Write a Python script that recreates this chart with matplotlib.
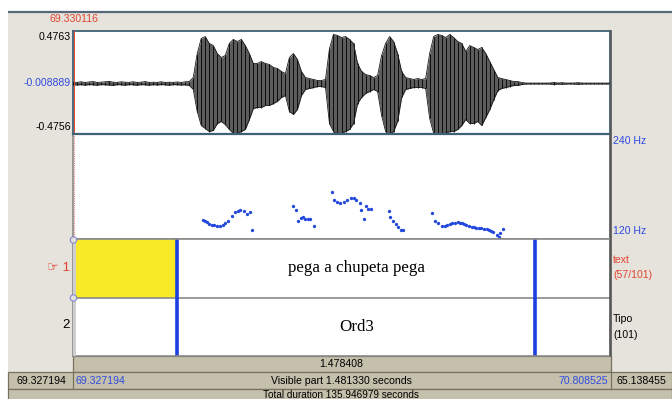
import numpy as np
import matplotlib
matplotlib.use("Agg")
import matplotlib.pyplot as plt
from matplotlib.patches import Rectangle, Circle

# ---------------- data ----------------
view_start = 69.327194
view_end = 70.808525
cursor_time = 69.330116
wave_dc = -0.008889
wave_top = 0.4763
wave_bottom = -0.4756
pitch_floor = 120
pitch_ceiling = 240

# waveform envelope, sampled every 0.011055 s from view_start
wave_step = 0.011055
wave_pos = [0.012, 0.010, 0.016, 0.010, 0.014, 0.018, 0.010, 0.012, 0.016, 0.020,
            0.012, 0.010, 0.016, 0.012, 0.010, 0.016, 0.010, 0.012, 0.018, 0.010,
            0.012, 0.010, 0.016, 0.010, 0.012, 0.010, 0.014, 0.010, 0.016,
            0.018, 0.055, 0.277, 0.416, 0.434, 0.370, 0.351, 0.277, 0.240, 0.259,
            0.370, 0.407, 0.388, 0.407, 0.351, 0.277, 0.185, 0.185, 0.203, 0.185,
            0.176, 0.148, 0.139, 0.111, 0.092, 0.240, 0.277, 0.222, 0.111, 0.055,
            0.046, 0.037, 0.028, 0.028, 0.037, 0.323, 0.453, 0.444, 0.425, 0.434,
            0.407, 0.370, 0.185, 0.111, 0.083, 0.074, 0.055, 0.074, 0.259, 0.370,
            0.434, 0.388, 0.277, 0.111, 0.055, 0.046, 0.037, 0.046, 0.037, 0.046,
            0.277, 0.434, 0.453, 0.444, 0.425, 0.453, 0.425, 0.388, 0.370, 0.296,
            0.351, 0.333, 0.314, 0.333, 0.277, 0.203, 0.129, 0.055, 0.046, 0.037,
            0.028, 0.018, 0.018, 0.009,
            0.004, 0.004, 0.004, 0.004, 0.004, 0.004, 0.004, 0.010, 0.004, 0.008,
            0.004, 0.004, 0.004, 0.008, 0.004, 0.004, 0.004, 0.004, 0.004, 0.004,
            0.004, 0.004]
wave_neg = [0.010, 0.014, 0.010, 0.016, 0.010, 0.012, 0.016, 0.010, 0.012, 0.014,
            0.018, 0.010, 0.012, 0.016, 0.010, 0.012, 0.016, 0.010, 0.012, 0.016,
            0.010, 0.014, 0.010, 0.012, 0.016, 0.010, 0.012, 0.014, 0.012,
            0.018, 0.055, 0.259, 0.388, 0.416, 0.444, 0.434, 0.370, 0.351, 0.379,
            0.425, 0.462, 0.462, 0.444, 0.425, 0.333, 0.231, 0.222, 0.222, 0.203,
            0.203, 0.185, 0.166, 0.129, 0.111, 0.259, 0.286, 0.240, 0.111, 0.055,
            0.046, 0.037, 0.028, 0.028, 0.037, 0.370, 0.444, 0.471, 0.462, 0.444,
            0.425, 0.370, 0.185, 0.129, 0.092, 0.074, 0.055, 0.074, 0.296, 0.444,
            0.471, 0.444, 0.351, 0.129, 0.055, 0.046, 0.037, 0.037, 0.037, 0.046,
            0.323, 0.462, 0.471, 0.462, 0.462, 0.444, 0.444, 0.425, 0.388, 0.333,
            0.370, 0.370, 0.351, 0.388, 0.314, 0.240, 0.148, 0.065, 0.046, 0.037,
            0.028, 0.018, 0.018, 0.009,
            0.004, 0.004, 0.004, 0.004, 0.004, 0.004, 0.004, 0.010, 0.004, 0.008,
            0.004, 0.004, 0.004, 0.008, 0.004, 0.004, 0.004, 0.004, 0.004, 0.004,
            0.004, 0.004]

# pitch track (s, Hz)
pitch_t = [69.685, 69.691, 69.697, 69.703, 69.710, 69.717, 69.724, 69.733, 69.740,
           69.747, 69.756, 69.766, 69.775, 69.782, 69.789, 69.798, 69.807, 69.816,
           69.822,
           69.934, 69.941, 69.948, 69.955, 69.961, 69.968, 69.976, 69.982, 69.991,
           70.042, 70.047, 70.056, 70.065, 70.074, 70.084, 70.093, 70.102, 70.109,
           70.118, 70.123, 70.130, 70.136, 70.142, 70.148,
           70.199, 70.203, 70.211, 70.217, 70.224, 70.231, 70.237,
           70.318, 70.325, 70.334, 70.346, 70.353, 70.360, 70.366, 70.374, 70.380,
           70.388, 70.394, 70.401, 70.406, 70.411, 70.420, 70.427, 70.434, 70.440,
           70.447, 70.454, 70.461, 70.468, 70.475, 70.481, 70.487, 70.496, 70.501,
           70.505, 70.512]
pitch_hz = [141.8, 140.4, 139.0, 137.5, 136.3, 135.6, 135.1, 135.1, 136.3,
            137.8, 141.0, 146.8, 150.6, 152.3, 153.4, 151.8, 148.8, 150.3,
            130.5,
            157.3, 152.6, 141.0, 144.1, 145.6, 143.3, 142.5, 142.7, 135.1,
            173.9, 165.1, 162.3, 161.1, 162.3, 165.1, 166.6, 166.6, 165.1,
            161.1, 152.6, 143.0, 158.1, 154.6, 154.1,
            152.3, 144.8, 141.0, 137.1, 133.2, 130.5, 130.5,
            149.9, 141.0, 137.8, 134.8, 135.1, 136.0, 136.9, 137.8, 138.4,
            139.0, 138.8, 138.3, 137.2, 136.3, 134.3, 133.8, 133.2, 132.8,
            132.5, 132.1, 131.7, 130.9, 130.1, 129.3, 128.2, 124.7, 122.3,
            127.3, 131.3]

# interval tiers
tier_names = ["text", "Tipo"]
tier_counts = ["(57/101)", "(101)"]
boundaries = [69.6146, 70.6021]
tier1_label = "pega a chupeta pega"
tier2_label = "Ord3"

# status texts
selection_text = "1.478408"
visible_text = "Visible part 1.481330 seconds"
total_text = "Total duration 135.946979 seconds"
window_left_text = "69.327194"
window_right_text = "70.808525"
before_text = "69.327194"
after_text = "65.138455"

# ---------------- figure ----------------
W, H = 672, 399
fig = plt.figure(figsize=(W / 100, H / 100), dpi=100)
fig.patch.set_facecolor("white")

SANS = ["Liberation Sans", "DejaVu Sans"]
SERIF = ["Liberation Serif", "DejaVu Serif"]
RED = "#e2452f"
BLUE = "#2f4be0"
BG = "#e6e2dc"
BAR = "#c5c0ab"
BAR_EDGE = "#77725f"


def px_box(x0, y0, x1, y1):
    return [x0 / W, 1 - y1 / H, (x1 - x0) / W, (y1 - y0) / H]


# window background in pixel coordinates
bg = fig.add_axes([0, 0, 1, 1])
bg.set_xlim(0, W)
bg.set_ylim(H, 0)
bg.axis("off")
bg.add_patch(Rectangle((8, 12), W - 8, H - 12, color=BG, lw=0))
bg.plot([8, W], [12, 12], color="#56697a", lw=1.6, solid_capstyle="butt")

# status bars
bg.add_patch(Rectangle((73, 356), 538, 16, facecolor=BAR, edgecolor=BAR_EDGE, lw=0.9))
bg.add_patch(Rectangle((8, 372), W - 8, 17, facecolor=BAR, edgecolor=BAR_EDGE, lw=0.9))
bg.add_patch(Rectangle((8, 389), W - 8, 12, facecolor=BAR, edgecolor=BAR_EDGE, lw=0.9))
bg.plot([73, 73], [372, 389], color=BAR_EDGE, lw=0.9)
bg.plot([611, 611], [372, 389], color=BAR_EDGE, lw=0.9)

fs = 7.6
bg.text(341, 364, selection_text, ha="center", va="center", fontsize=fs, family=SANS)
bg.text(341, 380.5, visible_text, ha="center", va="center", fontsize=fs, family=SANS)
bg.text(341, 389.6, total_text, ha="center", va="top", fontsize=7.2, family=SANS)
bg.text(41, 380.5, before_text, ha="center", va="center", fontsize=fs, family=SANS)
bg.text(641, 380.5, after_text, ha="center", va="center", fontsize=fs, family=SANS)
bg.text(75, 380.5, window_left_text, ha="left", va="center", fontsize=fs,
        family=SANS, color=BLUE)
bg.text(608, 380.5, window_right_text, ha="right", va="center", fontsize=fs,
        family=SANS, color=BLUE)

# left-hand labels
bg.text(74, 19.5, f"{cursor_time:.6f}", ha="center", va="center", fontsize=fs,
        family=SANS, color=RED)
bg.text(71, 36.5, f"{wave_top:.4f}", ha="right", va="center", fontsize=fs, family=SANS)
bg.text(71, 83, f"{wave_dc:.6f}", ha="right", va="center", fontsize=fs,
        family=SANS, color=BLUE)
bg.text(71, 126.5, f"{wave_bottom:.4f}", ha="right", va="center", fontsize=fs,
        family=SANS)
bg.text(70, 268, "\u261e 1", ha="right", va="center", fontsize=9.5, family=SANS,
        color=RED)
bg.text(70, 325.5, "2", ha="right", va="center", fontsize=9.5, family=SANS)

# right-hand labels
bg.text(613, 141.5, f"{pitch_ceiling} Hz", ha="left", va="center", fontsize=fs,
        family=SANS, color=BLUE)
bg.text(613, 231.5, f"{pitch_floor} Hz", ha="left", va="center", fontsize=fs,
        family=SANS, color=BLUE)
bg.text(613, 260, tier_names[0], ha="left", va="center", fontsize=fs,
        family=SANS, color=RED)
bg.text(613, 275.5, tier_counts[0], ha="left", va="center", fontsize=fs,
        family=SANS, color=RED)
bg.text(613, 318.5, tier_names[1], ha="left", va="center", fontsize=fs, family=SANS)
bg.text(613, 335, tier_counts[1], ha="left", va="center", fontsize=fs, family=SANS)

# ---------------- waveform ----------------
wav = fig.add_axes(px_box(73, 31, 610, 134))
wav.set_xlim(view_start, view_end)
wav.set_ylim(wave_bottom, wave_top)
wav.set_xticks([])
wav.set_yticks([])
for s in wav.spines.values():
    s.set_color("#3f6174")
    s.set_linewidth(1.3)

wt = view_start + wave_step * np.arange(len(wave_pos))
upper = wave_dc + np.array(wave_pos)
lower = wave_dc - np.array(wave_neg)
wav.axhline(wave_dc, color="#2d4760", lw=0.6, ls=(0, (1.5, 1.5)), zorder=1)
wav.fill_between(wt, lower, upper, color="#5c5c5c", lw=0, zorder=2)
wav.vlines(wt, lower, upper, color="black", lw=0.6, zorder=3)
wav.plot(wt, upper, color="#1a1a1a", lw=0.6, zorder=3)
wav.plot(wt, lower, color="#1a1a1a", lw=0.6, zorder=3)
wav.axvline(cursor_time, color=RED, lw=0.7, zorder=4)

# ---------------- pitch ----------------
pit = fig.add_axes(px_box(73, 134, 610, 239))
pit.set_xlim(view_start, view_end)
pit.set_ylim(pitch_floor, pitch_ceiling)
pit.set_xticks([])
pit.set_yticks([])
for s in pit.spines.values():
    s.set_color("#8a8a8a")
    s.set_linewidth(1.2)
pit.spines["top"].set_color("#3f6174")
pit.spines["top"].set_linewidth(1.6)
pit.spines["right"].set_color("#555555")
pit.axvline(cursor_time, color="#e88a80", lw=0.8, ls=(0, (1, 1)))
pit.plot(pitch_t, pitch_hz, "o", ms=2.4, color="#2448dc", mec="none")

# ---------------- tiers ----------------
tg = fig.add_axes(px_box(73, 239, 610, 356))
tg.set_xlim(view_start, view_end)
tg.set_ylim(2, 0)
tg.set_xticks([])
tg.set_yticks([])
for s in tg.spines.values():
    s.set_color("#8a8a8a")
    s.set_linewidth(1.2)
tg.spines["right"].set_color("#555555")
tg.axvspan(view_start, boundaries[0], ymin=0.5, ymax=1.0, color="#f8ea26", lw=0)
tg.axhline(1, color="#8a8a8a", lw=1.2)
tg.vlines(boundaries, 0, 2, color="#1b3fe0", lw=2.6)
mid = (boundaries[0] + boundaries[1]) / 2
tg.text(mid, 0.5, tier1_label, ha="center", va="center", fontsize=12.2, family=SERIF)
tg.text(mid, 1.5, tier2_label, ha="center", va="center", fontsize=12.2, family=SERIF)

# overlay: tier margin strip, tier handles, right border
fg = fig.add_axes([0, 0, 1, 1])
fg.set_xlim(0, W)
fg.set_ylim(H, 0)
fg.axis("off")
fg.patch.set_alpha(0)
fg.add_patch(Rectangle((73, 240), 2.5, 116, color="#cfcfcf", lw=0))
for yy in (240, 298):
    fg.add_patch(Circle((73.5, yy), 3.2, facecolor=BG, edgecolor="#8a90d0", lw=0.9))
fg.plot([610.5, 610.5], [31, 356], color="#555555", lw=1.2)

fig.savefig("out.png", dpi=100)
